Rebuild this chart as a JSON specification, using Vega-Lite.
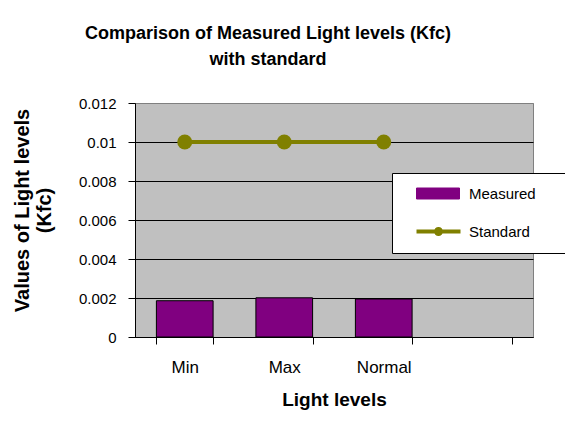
{
  "$schema": "https://vega.github.io/schema/vega-lite/v6.json",
  "width": 398,
  "height": 234,
  "autosize": {"type": "none"},
  "padding": {"left": 135, "top": 103, "right": 32, "bottom": 84},
  "background": "white",
  "title": {
    "text": ["Comparison of Measured Light levels (Kfc)", "with standard"],
    "font": "Liberation Sans",
    "fontSize": 18,
    "fontWeight": "bold",
    "color": "black",
    "lineHeight": 26,
    "anchor": "middle",
    "dx": -66,
    "offset": 27
  },
  "config": {
    "view": {"fill": "#C0C0C0", "stroke": "#808080", "strokeWidth": 1},
    "font": "Liberation Sans",
    "axis": {
      "labelFont": "Liberation Sans",
      "titleFont": "Liberation Sans",
      "labelColor": "black",
      "titleColor": "black",
      "domainColor": "black",
      "tickColor": "black",
      "tickSize": 7,
      "labelFontSize": 15,
      "titleFontSize": 19,
      "titleFontWeight": "bold"
    }
  },
  "data": {
    "values": [
      {"level": "Min", "series": "Measured", "value": 0.00186},
      {"level": "Max", "series": "Measured", "value": 0.00201},
      {"level": "Normal", "series": "Measured", "value": 0.00195},
      {"level": "Min", "series": "Standard", "value": 0.01},
      {"level": "Max", "series": "Standard", "value": 0.01},
      {"level": "Normal", "series": "Standard", "value": 0.01}
    ]
  },
  "encoding": {
    "x": {
      "field": "level",
      "type": "nominal",
      "sort": null,
      "scale": {"domain": ["Min", "Max", "Normal", " "], "paddingInner": 0.43, "paddingOuter": 0.215},
      "axis": {
        "title": "Light levels",
        "labelAngle": 0,
        "labelFontSize": 17,
        "tickBand": "extent",
        "labelPadding": 15,
        "titlePadding": 15,
        "grid": false
      }
    },
    "y": {
      "field": "value",
      "type": "quantitative",
      "scale": {"domain": [0, 0.012]},
      "axis": {
        "values": [0, 0.002, 0.004, 0.006, 0.008, 0.01, 0.012],
        "format": "~g",
        "grid": true,
        "gridColor": {"condition": {"test": "datum.value >= 0.012", "value": "#808080"}, "value": "black"},
        "gridOpacity": 1,
        "labelPadding": 12,
        "title": ["Values of Light levels", "(Kfc)"],
        "titleFontSize": 20,
        "titleAngle": -90,
        "titleAlign": "center",
        "titleBaseline": "middle",
        "titleLineHeight": 22,
        "titleX": -113,
        "titleY": 107
      }
    },
    "color": {
      "field": "series",
      "type": "nominal",
      "scale": {"domain": ["Measured", "Standard"], "range": ["#800080", "#808000"]},
      "legend": {
        "title": null,
        "orient": "none",
        "legendX": 257,
        "legendY": 70,
        "fillColor": "white",
        "strokeColor": "black",
        "padding": 13,
        "symbolSize": 400,
        "rowPadding": 22,
        "labelOffset": 49,
        "labelFont": "Liberation Sans",
        "labelFontSize": 15,
        "labelColor": "black",
        "labelLimit": 300,
        "labelExpr": "datum.label + '\u00a0\u00a0\u00a0\u00a0\u00a0\u00a0\u200b'",
        "encode": {
          "symbols": {
            "update": {
              "shape": {"signal": "datum.value === 'Measured' ? 'M0.4,-0.55L4.7,-0.55L4.7,0.55L0.4,0.55Z' : 'M0.4,-0.2L4.8,-0.2L4.8,0.2L0.4,0.2Z M2.15,0A0.45,0.45 0 1,1 3.05,0A0.45,0.45 0 1,1 2.15,0Z'"},
              "fill": {"signal": "datum.value === 'Measured' ? '#800080' : '#808000'"},
              "stroke": {"signal": "datum.value === 'Measured' ? 'black' : '#808000'"},
              "strokeWidth": {"signal": "datum.value === 'Measured' ? 1 : 0"},
              "opacity": {"value": 1},
              "fillOpacity": {"value": 1}
            }
          }
        }
      }
    }
  },
  "layer": [
    {
      "transform": [{"filter": "datum.series === 'Measured'"}],
      "mark": {"type": "bar", "stroke": "black", "strokeWidth": 1, "opacity": 1}
    },
    {
      "transform": [{"filter": "datum.series === 'Standard'"}],
      "mark": {"type": "line", "strokeWidth": 4, "point": {"filled": true, "size": 225, "opacity": 1}}
    }
  ]
}
